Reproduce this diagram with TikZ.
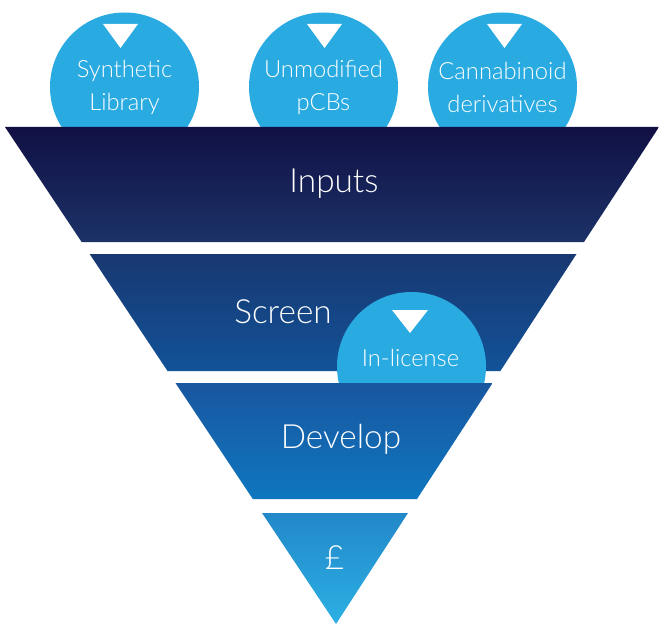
\documentclass[tikz,border=0pt]{standalone}
\usepackage{fontspec}
\setmainfont{Lato}[UprightFont=* Light]
\usetikzlibrary{positioning}
\definecolor{bubbleblue}{RGB}{41,170,225}
\definecolor{inA}{RGB}{17,16,68}
\definecolor{inB}{RGB}{27,50,104}
\definecolor{scA}{RGB}{24,56,113}
\definecolor{scB}{RGB}{18,82,152}
\definecolor{dvA}{RGB}{25,86,160}
\definecolor{dvB}{RGB}{14,119,191}
\definecolor{pdA}{RGB}{35,136,201}
\definecolor{pdB}{RGB}{43,176,228}
\begin{document}
\begin{tikzpicture}[x=0.75pt,y=-0.75pt]
  \tikzstyle{bubble}=[circle,fill=bubbleblue,minimum size=111.75pt,inner sep=0pt,text=white,align=center,font=\fontsize{17.8}{24.75}\selectfont]
  \tikzstyle{bubbletext}=[text=white,font=\fontsize{17.8}{24.75}\selectfont,anchor=base]
  \tikzstyle{stagetext}=[text=white,font=\fontsize{25}{30}\selectfont,anchor=base]
  \useasboundingbox (0,0) rectangle (659,624);
  % input bubbles
  \node[bubble] (synth) at (124.5,87) {Synthetic\\Library};
  \node[bubble] (unmod) at (323.5,87) {Unmodified\\pCBs};
  \node[bubble] (canna) at (502.5,87) {Cannabinoid\\derivatives};
  \fill[white] (103,24) -- (138,24) -- (120.5,48) -- cycle;
  \fill[white] (307,24) -- (342,24) -- (324.5,48) -- cycle;
  \fill[white] (487,24) -- (522,24) -- (504.5,48) -- cycle;
  % funnel bands
  \shade[top color=inA,bottom color=inB] (5,127) -- (659,127) -- (584,242) -- (81.6,242) -- cycle;
  \shade[top color=scA,bottom color=scB] (89.6,254) -- (576.5,254) -- (500.4,371) -- (167.5,371) -- cycle;
  \node[bubble,minimum size=111.75pt] (inlic) at (411.5,366.5) {};
  \fill[white] (392,310) -- (428,310) -- (410,333) -- cycle;
  \node[bubbletext] (inlictext) at (410.5,366) {In-license};
  \shade[top color=dvA,bottom color=dvB] (175.5,383) -- (492.6,383) -- (417,499) -- (252.8,499) -- cycle;
  \shade[top color=pdA,bottom color=pdB] (262,513) -- (408,513) -- (336,624) -- cycle;
  % stage labels
  \node[stagetext] (inputs) at (334,192) {Inputs};
  \node[stagetext] (screen) at (283,323) {Screen};
  \node[stagetext] (develop) at (341,448) {Develop};
  \node[stagetext] (pound) at (334.5,569) {£};
\end{tikzpicture}
\end{document}
